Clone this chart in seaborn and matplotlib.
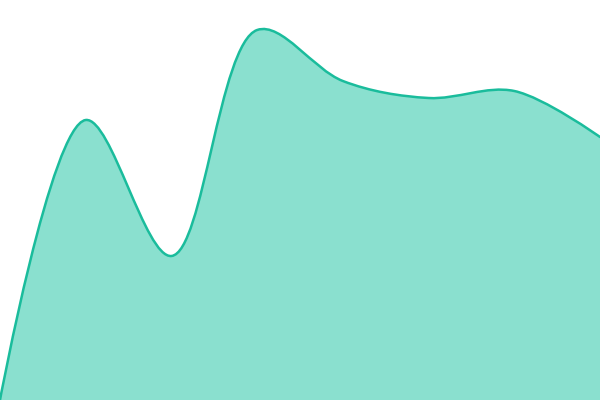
import numpy as np
import matplotlib
matplotlib.use("Agg")
import matplotlib.pyplot as plt
from matplotlib.path import Path
from matplotlib.patches import PathPatch
import seaborn as sns

# values, one per evenly spaced step
steps = [0, 1, 2, 3, 4, 5, 6, 7]
values = [0, 280, 144, 370, 319, 302, 309, 263]

line_color = "#1abc9c"
fill_color = "#8ae0cf"


def catmull_rom_path(ax, x, y, close=False, alpha=0.5):
    # centripetal catmull-rom, distances measured on screen
    data = np.column_stack([x, y]).astype(float)
    pts = ax.transData.transform(data)
    n = len(pts)
    verts = [tuple(pts[0])]
    codes = [Path.MOVETO]
    for i in range(n - 1):
        p1, p2 = pts[i], pts[i + 1]
        l12 = np.linalg.norm(p2 - p1)
        c1, c2 = p1.copy(), p2.copy()
        if i > 0:
            p0 = pts[i - 1]
            l01 = np.linalg.norm(p1 - p0)
            a01, a12 = l01 ** alpha, l12 ** alpha
            a = 2 * a01 ** 2 + 3 * a01 * a12 + a12 ** 2
            m = 3 * a01 * (a01 + a12)
            c1 = (p1 * a - p0 * a12 ** 2 + p2 * a01 ** 2) / m
        if i + 2 < n:
            p3 = pts[i + 2]
            l23 = np.linalg.norm(p3 - p2)
            a23, a12 = l23 ** alpha, l12 ** alpha
            b = 2 * a23 ** 2 + 3 * a23 * a12 + a12 ** 2
            m = 3 * a23 * (a23 + a12)
            c2 = (p2 * b + p1 * a23 ** 2 - p3 * a12 ** 2) / m
        verts += [tuple(c1), tuple(c2), tuple(p2)]
        codes += [Path.CURVE4] * 3
    if close:
        base = ax.transData.transform([(x[-1], 0), (x[0], 0)])
        verts += [tuple(base[0]), tuple(base[1]), tuple(pts[0])]
        codes += [Path.LINETO, Path.LINETO, Path.CLOSEPOLY]
    verts = ax.transData.inverted().transform(np.array(verts))
    return Path(verts, codes)


sns.set_theme(style="white")

fig = plt.figure(figsize=(6, 4), dpi=100)
ax = fig.add_axes([0, 0, 1, 1])
ax.set_xlim(0, 7)
ax.set_ylim(0, 400)
ax.axis("off")

ax.add_patch(PathPatch(catmull_rom_path(ax, steps, values, close=True),
                       facecolor=fill_color, edgecolor="none"))
ax.add_patch(PathPatch(catmull_rom_path(ax, steps, values),
                       facecolor="none", edgecolor=line_color, linewidth=1.8,
                       capstyle="round", joinstyle="round"))

fig.savefig("out.png", dpi=100)
